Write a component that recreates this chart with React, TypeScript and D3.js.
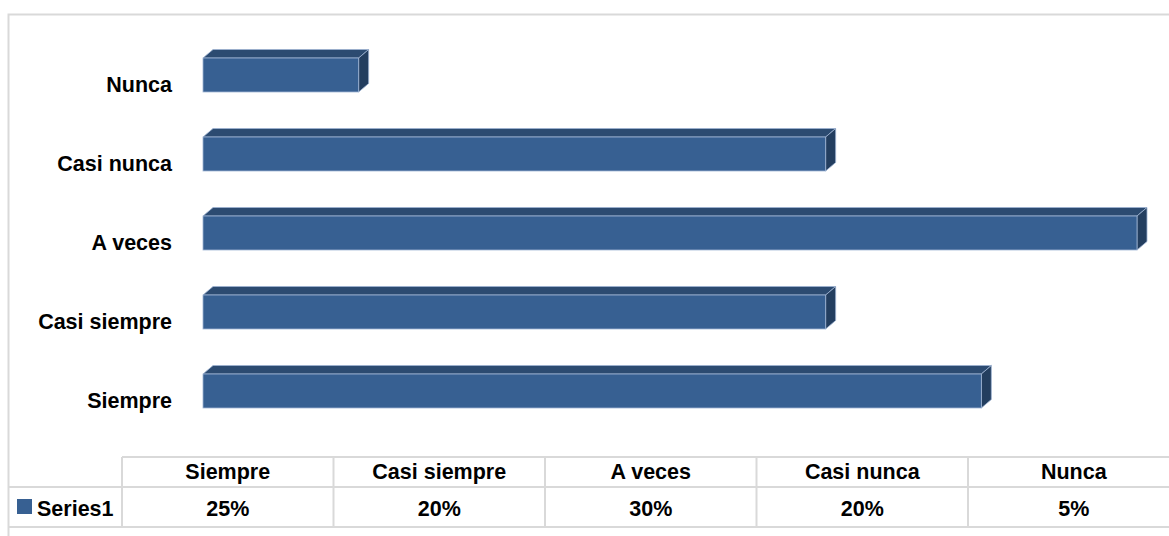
import React from 'react';
import * as d3 from 'd3';

// datos de la gráfica
const categories = ['Siempre', 'Casi siempre', 'A veces', 'Casi nunca', 'Nunca'];
const values = [25, 20, 30, 20, 5];
const valueLabels = ['25%', '20%', '30%', '20%', '5%'];
const seriesName = 'Series1';

const W = 1169;
const H = 536;
const FONT = '"Liberation Sans", Arial, sans-serif';
const FS = 21.5;
const FRONT = '#376092';
const TOP = '#2c4b71';
const SIDE = '#233e5f';
const EDGE = '#9db3d2';
const GRID = '#d9d9d9';
const DX = 10;
const DY = 8.5;

const App = () => {
  // eje horizontal de valores
  const x = d3.scaleLinear().domain([0, 30]).range([203, 1137]);

  // categorías de abajo hacia arriba (la primera queda abajo)
  const y = d3
    .scaleBand<string>()
    .domain([...categories].reverse())
    .range([35.5, 430.5])
    .paddingInner(0.57)
    .paddingOuter(0.285);
  const bh = y.bandwidth();

  // columnas de la tabla de datos
  const col = d3
    .scaleBand<string>()
    .domain(categories)
    .range([122, 122 + 211.5 * categories.length]);

  const rowTop = 457;
  const rowMid = 487;
  const rowBot = 527;

  return (
    <div style={{ position: 'absolute', left: 0, top: 0 }}>
      <svg width={W} height={H} style={{ display: 'block', background: '#fff' }}>
        <rect x={8.5} y={14.5} width={W + 20} height={H + 20} fill="#fff" stroke={GRID} strokeWidth={2} />

        {categories.map((c, i) => {
          const x0 = x(0);
          const x1 = x(values[i]);
          const y0 = y(c) as number;
          const y1 = y0 + bh;
          const top = `${x0},${y0} ${x0 + DX},${y0 - DY} ${x1 + DX},${y0 - DY} ${x1},${y0}`;
          const side = `${x1},${y0} ${x1 + DX},${y0 - DY} ${x1 + DX},${y1 - DY} ${x1},${y1}`;
          return (
            <g key={c}>
              <polygon points={top} fill={TOP} stroke={EDGE} strokeWidth={0.8} strokeLinejoin="round" />
              <polygon points={side} fill={SIDE} stroke={EDGE} strokeWidth={0.8} strokeLinejoin="round" />
              <rect x={x0} y={y0} width={x1 - x0} height={bh} fill={FRONT} stroke={EDGE} strokeWidth={0.8} />
              <text
                x={172}
                y={y1}
                textAnchor="end"
                fontFamily={FONT}
                fontWeight="bold"
                fontSize={FS}
                fill="#000"
              >
                {c}
              </text>
            </g>
          );
        })}

        {/* tabla de datos */}
        <g stroke={GRID} strokeWidth={2}>
          <line x1={122} x2={W + 10} y1={rowTop} y2={rowTop} />
          <line x1={8} x2={W + 10} y1={rowMid} y2={rowMid} />
          <line x1={8} x2={W + 10} y1={rowBot} y2={rowBot} />
          {categories.map((c) => (
            <line key={c} x1={col(c)} x2={col(c)} y1={rowTop} y2={rowBot} />
          ))}
        </g>
        {categories.map((c, i) => {
          const cx = (col(c) as number) + col.bandwidth() / 2;
          return (
            <g key={c} fontFamily={FONT} fontWeight="bold" fontSize={FS} textAnchor="middle" fill="#000">
              <text x={cx} y={479}>{c}</text>
              <text x={cx} y={516}>{valueLabels[i]}</text>
            </g>
          );
        })}
        <rect x={17} y={499} width={15} height={15} fill={FRONT} />
        <text x={37} y={516} fontFamily={FONT} fontWeight="bold" fontSize={FS} fill="#000">
          {seriesName}
        </text>
      </svg>
    </div>
  );
};

export default App;
